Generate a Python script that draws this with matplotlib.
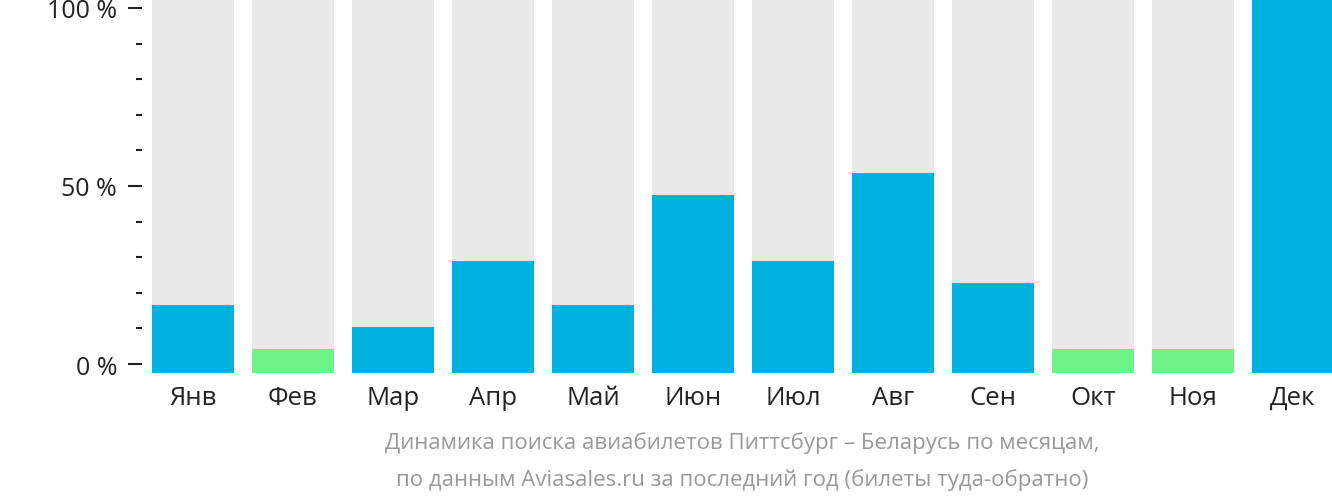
import matplotlib.pyplot as plt
from matplotlib.ticker import MultipleLocator, FixedLocator

months = ['Янв', 'Фев', 'Мар', 'Апр', 'Май', 'Июн',
          'Июл', 'Авг', 'Сен', 'Окт', 'Ноя', 'Дек']
values = [16.6, 4.2, 10.4, 28.9, 16.6, 47.5, 28.9, 53.7, 22.8, 4.2, 4.2, 102.5]
ytick_vals = [0, 50, 100]
ytick_labels = ['0 %', '50 %', '100 %']

blue = '#00b1dd'
green = '#6cf287'
grey = '#e8e8e8'
base = -2.5
top = 102.5

plt.rcParams['font.family'] = ['Open Sans', 'DejaVu Sans']

fig = plt.figure(figsize=(13.32, 5.02), dpi=100)
ax = fig.add_axes([142 / 1332, (502 - 374) / 502, 1190 / 1332, 374 / 502])

x = list(range(len(months)))
ax.bar(x, [top - base] * len(x), bottom=base, width=0.82, color=grey, linewidth=0)
colors = [green if v < 5 else blue for v in values]
ax.bar(x, [v - base for v in values], bottom=base, width=0.82, color=colors, linewidth=0)

ax.set_xlim(-0.51, 11.39)
ax.set_ylim(base, top)

for s in ax.spines.values():
    s.set_visible(False)

ax.yaxis.set_major_locator(FixedLocator(ytick_vals))
ax.set_yticklabels(ytick_labels)
ax.yaxis.set_minor_locator(MultipleLocator(10))
ax.tick_params(axis='y', which='major', length=10, width=1.5, color='#222222',
               pad=8, labelsize=18, labelcolor='#222222')
ax.tick_params(axis='y', which='minor', length=4.3, width=1.5, color='#222222')

ax.set_xticks(x)
ax.set_xticklabels(months)
ax.tick_params(axis='x', length=0, pad=8.5, labelsize=18.5, labelcolor='#222222')

cx = 742 / 1332
fig.text(cx, 59 / 502, 'Динамика поиска авиабилетов Питтсбург – Беларусь по месяцам,',
         ha='center', va='center', fontsize=16, color='#999999')
fig.text(cx, 22 / 502, 'по данным Aviasales.ru за последний год (билеты туда-обратно)',
         ha='center', va='center', fontsize=16, color='#999999')

fig.savefig('out.png', dpi=100)
